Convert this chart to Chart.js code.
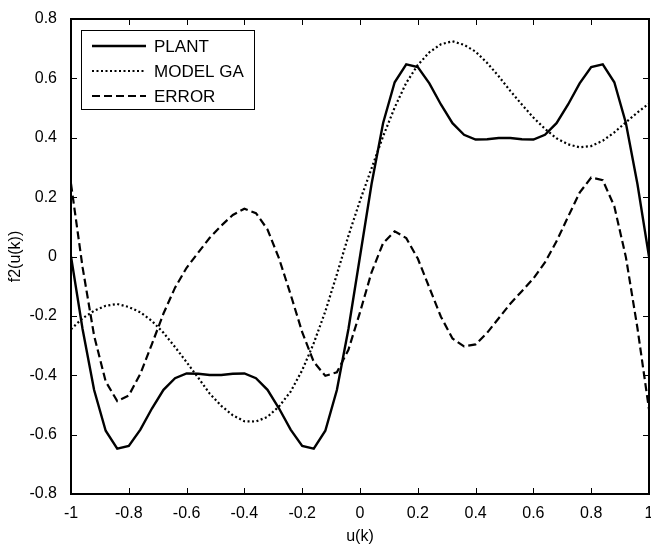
<!DOCTYPE html>
<html>
<head>
<meta charset="utf-8">
<script src="https://cdn.jsdelivr.net/npm/chart.js@4/dist/chart.umd.min.js"></script>
<style>
  body { margin: 0; background: #fff; }
  canvas { display: block; }
</style>
</head>
<body>
<canvas id="grafico" width="651" height="548"></canvas>
<script>
// f2(u(k)) - planta vs modelo GA y error

const uVals = [-1, -0.96, -0.92, -0.88, -0.84, -0.8, -0.76, -0.72, -0.68, -0.64,
  -0.6, -0.56, -0.52, -0.48, -0.44, -0.4, -0.36, -0.32, -0.28, -0.24,
  -0.2, -0.16, -0.12, -0.08, -0.04, 0, 0.04, 0.08, 0.12, 0.16,
  0.2, 0.24, 0.28, 0.32, 0.36, 0.4, 0.44, 0.48, 0.52, 0.56,
  0.6, 0.64, 0.68, 0.72, 0.76, 0.8, 0.84, 0.88, 0.92, 0.96, 1];

const plantVals = [0, -0.244, -0.45, -0.587, -0.647, -0.638, -0.583, -0.512, -0.449, -0.41,
  -0.394, -0.395, -0.399, -0.399, -0.395, -0.394, -0.41, -0.449, -0.512, -0.583,
  -0.638, -0.647, -0.587, -0.45, -0.244, 0, 0.244, 0.45, 0.587, 0.647,
  0.638, 0.583, 0.512, 0.449, 0.41, 0.394, 0.395, 0.399, 0.399, 0.395,
  0.394, 0.41, 0.449, 0.512, 0.583, 0.638, 0.647, 0.587, 0.45, 0.244, 0];

const modelVals = [-0.245, -0.208, -0.183, -0.166, -0.16, -0.17, -0.188, -0.217, -0.257, -0.305,
  -0.356, -0.408, -0.462, -0.503, -0.535, -0.555, -0.556, -0.54, -0.505, -0.455,
  -0.383, -0.292, -0.185, -0.06, 0.07, 0.188, 0.297, 0.405, 0.502, 0.585,
  0.645, 0.688, 0.715, 0.725, 0.713, 0.69, 0.652, 0.607, 0.558, 0.512,
  0.468, 0.43, 0.398, 0.378, 0.368, 0.372, 0.39, 0.418, 0.452, 0.485, 0.515];

const errorVals = [0.245, -0.036, -0.267, -0.421, -0.487, -0.468, -0.395, -0.295, -0.192, -0.105,
  -0.038, 0.013, 0.063, 0.104, 0.14, 0.161, 0.146, 0.091, -0.007, -0.128,
  -0.255, -0.355, -0.402, -0.39, -0.314, -0.188, -0.053, 0.045, 0.085, 0.062,
  -0.007, -0.105, -0.203, -0.276, -0.303, -0.296, -0.257, -0.208, -0.159, -0.117,
  -0.074, -0.02, 0.051, 0.134, 0.215, 0.266, 0.257, 0.169, -0.002, -0.241, -0.515];

const seriesNames = ["PLANT", "MODEL GA", "ERROR"];
const xTicks = [-1, -0.8, -0.6, -0.4, -0.2, 0, 0.2, 0.4, 0.6, 0.8, 1];
const yTicks = [-0.8, -0.6, -0.4, -0.2, 0, 0.2, 0.4, 0.6, 0.8];

const fuente = "'Liberation Sans', Arial, Helvetica, sans-serif";

function puntos(valores) {
  return uVals.map((u, i) => ({ x: u, y: valores[i] }));
}

// marco estilo matlab con ticks hacia dentro en los cuatro lados
const marcoEjes = {
  id: 'marcoEjes',
  afterDatasetsDraw(chart) {
    const { ctx, chartArea: a, scales: { x, y } } = chart;
    ctx.save();
    ctx.strokeStyle = '#000';
    ctx.lineWidth = 1;
    ctx.beginPath();
    x.ticks.forEach(t => {
      const px = Math.round(x.getPixelForValue(t.value)) + 0.5;
      ctx.moveTo(px, a.bottom); ctx.lineTo(px, a.bottom - 6);
      ctx.moveTo(px, a.top); ctx.lineTo(px, a.top + 6);
    });
    y.ticks.forEach(t => {
      const py = Math.round(y.getPixelForValue(t.value)) + 0.5;
      ctx.moveTo(a.left, py); ctx.lineTo(a.left + 6, py);
      ctx.moveTo(a.right, py); ctx.lineTo(a.right - 6, py);
    });
    ctx.stroke();
    ctx.lineWidth = 2;
    ctx.strokeRect(a.left, a.top, a.width, a.height);
    ctx.restore();
  }
};

// leyenda con recuadro arriba a la izquierda
const leyendaCaja = {
  id: 'leyendaCaja',
  afterDraw(chart) {
    const { ctx, chartArea: a } = chart;
    const x0 = a.left + 10, y0 = a.top + 11, w = 173, h = 79;
    ctx.save();
    ctx.fillStyle = '#fff';
    ctx.fillRect(x0, y0, w, h);
    ctx.strokeStyle = '#000';
    ctx.lineWidth = 1;
    ctx.strokeRect(x0 + 0.5, y0 + 0.5, w, h);
    ctx.font = "17px " + fuente;
    ctx.textBaseline = 'middle';
    chart.data.datasets.forEach((ds, i) => {
      const yy = y0 + 16 + i * 25;
      ctx.beginPath();
      ctx.setLineDash(ds.borderDash || []);
      ctx.lineWidth = ds.borderWidth;
      ctx.moveTo(x0 + 11, yy);
      ctx.lineTo(x0 + 65, yy);
      ctx.stroke();
      ctx.setLineDash([]);
      ctx.fillStyle = '#000';
      ctx.fillText(ds.label, x0 + 73, yy + 1);
    });
    ctx.restore();
  }
};

const ctxG = document.getElementById('grafico').getContext('2d');
new Chart(ctxG, {
  type: 'line',
  data: {
    datasets: [
      { label: seriesNames[0], data: puntos(plantVals), borderColor: '#000', borderWidth: 2.4, pointRadius: 0, tension: 0 },
      { label: seriesNames[1], data: puntos(modelVals), borderColor: '#000', borderWidth: 2.2, borderDash: [2, 2.5], pointRadius: 0, tension: 0 },
      { label: seriesNames[2], data: puntos(errorVals), borderColor: '#000', borderWidth: 2.2, borderDash: [8, 4], pointRadius: 0, tension: 0 }
    ]
  },
  options: {
    responsive: false,
    animation: false,
    layout: { padding: { top: 19, right: 2, bottom: 0, left: 0 } },
    plugins: { legend: { display: false }, tooltip: { enabled: false } },
    scales: {
      x: {
        type: 'linear', min: -1, max: 1,
        afterBuildTicks: s => { s.ticks = xTicks.map(v => ({ value: v })); },
        afterFit: s => { s.paddingLeft = 0; s.paddingRight = 0; s.height = 54; },
        grid: { display: false },
        border: { display: false },
        ticks: { color: '#000', padding: 2, maxRotation: 0, autoSkip: false, font: { family: fuente, size: 16 }, callback: v => String(v) },
        title: { display: true, text: 'u(k)', color: '#000', font: { family: fuente, size: 16 }, padding: { top: 0, bottom: 2 } }
      },
      y: {
        type: 'linear', min: -0.8, max: 0.8,
        afterBuildTicks: s => { s.ticks = yTicks.map(v => ({ value: v })); },
        afterFit: s => { s.paddingTop = 0; s.paddingBottom = 0; s.width = 71; },
        grid: { display: false },
        border: { display: false },
        ticks: { color: '#000', padding: 6, autoSkip: false, font: { family: fuente, size: 16 }, callback: v => String(v) },
        title: { display: true, text: 'f2(u(k))', color: '#000', font: { family: fuente, size: 16 }, padding: { top: 6, bottom: 0 } }
      }
    }
  },
  plugins: [marcoEjes, leyendaCaja]
});
</script>
</body>
</html>
